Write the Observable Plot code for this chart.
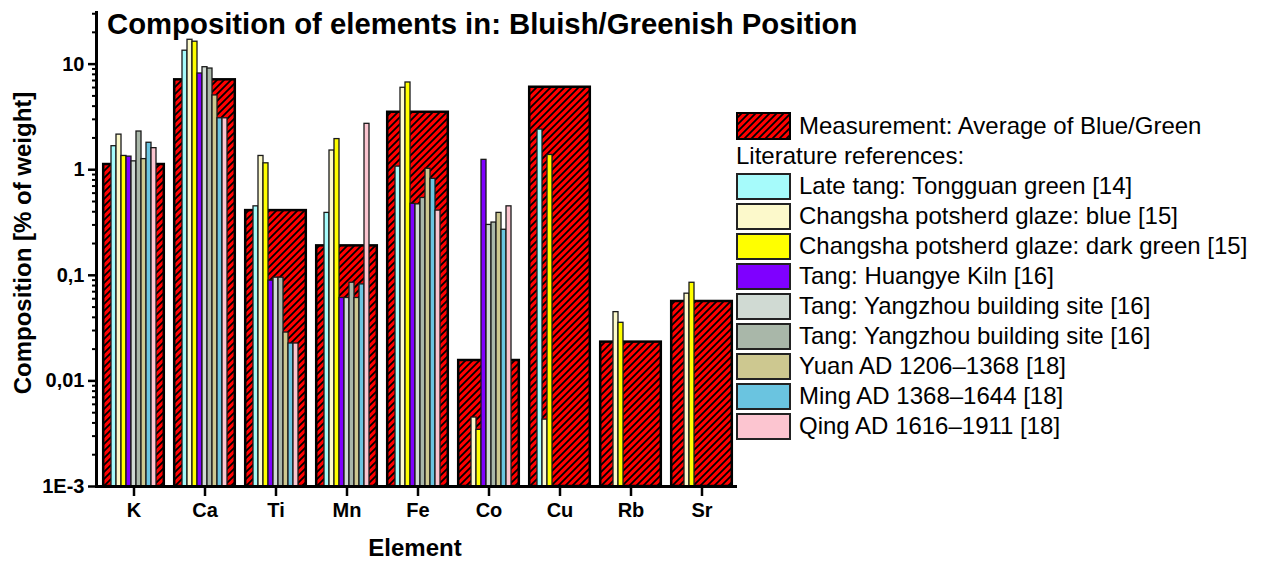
<!DOCTYPE html>
<html>
<head>
<meta charset="utf-8">
<script src="https://cdn.jsdelivr.net/npm/d3@7"></script>
<script src="https://cdn.jsdelivr.net/npm/@observablehq/plot@0.6"></script>
<style>
  body { margin: 0; background: #fff; font-family: "Liberation Sans", Arial, sans-serif; }
  #wrap { position: relative; width: 1266px; height: 562px; overflow: hidden; }
  #chart { position: absolute; left: 0; top: 0; }
  #chart svg text { font-weight: bold; }
  #yline { position: absolute; background: #000; width: 3px; }
  #title { position: absolute; left: 107px; top: 9px; font-size: 29.3px; font-weight: bold; line-height: 1; white-space: nowrap; }
  #ylabel { position: absolute; left: 23px; top: 243px; transform: translate(-50%, -50%) rotate(-90deg); font-size: 24px; font-weight: bold; white-space: nowrap; line-height: 1; }
  #xlabel { position: absolute; left: 415px; top: 548px; transform: translate(-50%, -50%); font-size: 24px; font-weight: bold; white-space: nowrap; line-height: 1; }
  #legend { position: absolute; left: 736px; top: 111px; font-size: 24px; }
  .row { display: flex; align-items: center; height: 30px; white-space: nowrap; }
  .sw { width: 55px; height: 27px; box-sizing: border-box; border: 2px solid #222; margin-right: 8px; flex: none; }
  .swsvg { margin-right: 8px; flex: none; display: block; }
</style>
</head>
<body>
<svg width="0" height="0" style="position:absolute">
  <defs>
    <pattern id="hatch" patternUnits="userSpaceOnUse" width="7" height="7">
      <rect width="7" height="7" fill="#ff0000"></rect>
      <path d="M0,7 L7,0 M-1,1 L1,-1 M6,8 L8,6" stroke="#000" stroke-width="1.8"></path>
    </pattern>
  </defs>
</svg>
<div id="wrap">
  <div id="chart"></div>
  <div id="yline"></div>
  <div id="title"></div>
  <div id="ylabel"></div>
  <div id="xlabel"></div>
  <div id="legend"></div>
</div>
<script>
// ---------- data ----------
const titleText = "Composition of elements in: Bluish/Greenish Position";
const yLabelText = "Composition [% of weight]";
const xLabelText = "Element";

const elements = ["K", "Ca", "Ti", "Mn", "Fe", "Co", "Cu", "Rb", "Sr"];

const majorTicks = [0.001, 0.01, 0.1, 1, 10];
const yTickLabels = ["1E-3", "0,01", "0,1", "1", "10"];

const measurementLabel = "Measurement: Average of Blue/Green";
const measurement = [1.12, 7.1, 0.41, 0.19, 3.5, 0.0156, 6.04, 0.0233, 0.0565];

const literatureHeader = "Literature references:";
const literatureLabels = [
  "Late tang: Tongguan green [14]",
  "Changsha potsherd glaze: blue [15]",
  "Changsha potsherd glaze: dark green [15]",
  "Tang: Huangye Kiln [16]",
  "Tang: Yangzhou building site [16]",
  "Tang: Yangzhou building site [16]",
  "Yuan AD 1206\u20131368 [18]",
  "Ming AD 1368\u20131644 [18]",
  "Qing AD 1616\u20131911 [18]"
];

// values per element (K, Ca, Ti, Mn, Fe, Co, Cu, Rb, Sr); null = no bar
const tongguan      = [1.67, 13.4, 0.45, 0.39, 1.07, null, 2.40, null, null];
const changshaBlue  = [2.15, 17.0, 1.35, 1.52, 5.97, 0.0045, 0.0043, 0.0448, 0.067];
const changshaGreen = [1.35, 16.3, 1.15, 1.95, 6.70, 0.00344, 1.38, 0.0355, 0.085];
const huangye       = [1.33, 8.15, 0.089, 0.061, 0.475, 1.24, null, null, null];
const yangzhouA     = [1.20, 9.35, 0.095, 0.061, 0.47, 0.30, null, null, null];
const yangzhouB     = [2.30, 9.08, 0.095, 0.085, 0.54, 0.316, null, null, null];
const yuan          = [1.26, 5.05, 0.0287, 0.061, 1.02, 0.39, null, null, null];
const ming          = [1.80, 3.07, 0.0226, 0.082, 0.82, 0.27, null, null, null];
const qing          = [1.60, 3.07, 0.0226, 2.72, 0.41, 0.45, null, null, null];

const literature = [tongguan, changshaBlue, changshaGreen, huangye, yangzhouA, yangzhouB, yuan, ming, qing];

const literatureColors = ["#a6fbfb", "#fcf9cb", "#ffff00", "#7f00ff", "#d0dad3", "#a9b7a9", "#cdc890", "#6ac4e0", "#fcc5d0"];

// ---------- tables ----------
const seriesIdx = d3.range(literatureLabels.length);
const measRows = elements.map((e, i) => ({element: e, value: measurement[i]}));
const litRows = [];
elements.forEach((e, i) => {
  literature.forEach((vals, j) => {
    if (vals[i] != null) litRows.push({element: e, series: j, value: vals[i]});
  });
});
const yMin = 0.001;
const yMax = 31.5;
const minorTicks = [];
for (let dec = yMin; dec < yMax; dec *= 10) {
  for (let m = 2; m <= 9; m++) {
    const v = +(dec * m).toPrecision(3);
    if (v <= yMax) minorTicks.push(v);
  }
}

// ---------- plot ----------
const mLeft = 96;
const chart = Plot.plot({
  width: 1266,
  height: 562,
  marginTop: 11,
  marginBottom: 76,
  marginLeft: mLeft,
  marginRight: 526.5,
  style: {background: "transparent", fontFamily: "'Liberation Sans', Arial, sans-serif", color: "#000", overflow: "visible"},
  fx: {domain: elements, padding: 0, label: null},
  x: {type: "band", domain: seriesIdx, padding: 0, insetLeft: 10.5, insetRight: 10.5, axis: null},
  y: {type: "log", domain: [yMin, yMax], axis: null},
  color: {type: "ordinal", domain: seriesIdx, range: literatureColors},
  marks: [
    Plot.barY(measRows, {fx: "element", y1: yMin, y2: "value", fill: "url(#hatch)", stroke: "#000", strokeWidth: 2.5, insetLeft: 5.2, insetRight: 5.2}),
    Plot.barY(litRows, {fx: "element", x: "series", y1: yMin, y2: "value", fill: "series", stroke: "#1a1a1a", strokeWidth: 1.3}),
    Plot.ruleY([yMin], {stroke: "#000", strokeWidth: 3}),
    Plot.axisY(minorTicks, {tickSize: 6, tickFormat: () => "", strokeWidth: 2, label: null}),
    Plot.axisY(majorTicks, {tickSize: 10, tickPadding: 4, fontSize: 20, strokeWidth: 2.5, label: null,
      tickFormat: d => yTickLabels[majorTicks.indexOf(d)]}),
    Plot.axisFx({anchor: "bottom", tickSize: 10, tickPadding: 6, fontSize: 20, strokeWidth: 2.5, label: null})
  ]
});
document.getElementById("chart").appendChild(chart);

// y axis line, placed with the plot's own y scale
const ys = chart.scale("y");
const yb = ys.apply(yMin), yt = ys.apply(yMax);
d3.select("#yline")
  .style("left", (mLeft - 1.5) + "px")
  .style("top", yt + "px")
  .style("height", (yb - yt + 1.5) + "px");

// ---------- texts ----------
document.getElementById("title").textContent = titleText;
document.getElementById("ylabel").textContent = yLabelText;
document.getElementById("xlabel").textContent = xLabelText;

// ---------- legend ----------
const legend = d3.select("#legend");
const r0 = legend.append("div").attr("class", "row");
const s0 = r0.append("svg").attr("class", "swsvg").attr("width", 55).attr("height", 28);
s0.append("rect").attr("x", 1).attr("y", 1).attr("width", 53).attr("height", 26)
  .attr("fill", "url(#hatch)").attr("stroke", "#000").attr("stroke-width", 2);
r0.append("span").text(measurementLabel);
legend.append("div").attr("class", "row").append("span").text(literatureHeader);
literatureLabels.forEach((lab, j) => {
  const r = legend.append("div").attr("class", "row");
  r.append("div").attr("class", "sw").style("background", literatureColors[j]);
  r.append("span").text(lab);
});
</script>
</body>
</html>
